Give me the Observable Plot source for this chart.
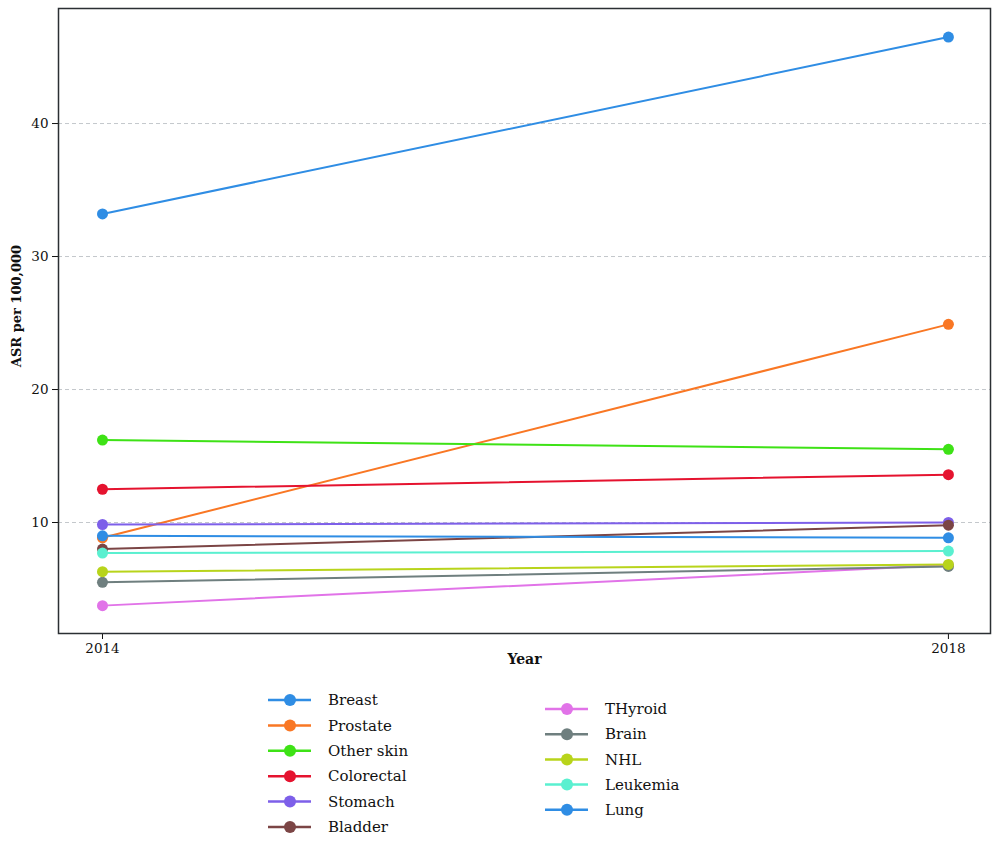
<!DOCTYPE html>
<html>
<head>
<meta charset="utf-8">
<script src="https://cdn.jsdelivr.net/npm/d3@7"></script>
<script src="https://cdn.jsdelivr.net/npm/@observablehq/plot@0.6"></script>
<style>
  html, body { margin: 0; padding: 0; background: #fff; }
  #wrap { position: relative; width: 1000px; height: 848px; font-family: "DejaVu Serif", serif; }
  #chart { position: absolute; left: 0; top: 0; }
  #legend { position: absolute; left: 0; top: 680px; }
</style>
</head>
<body>
<div id="wrap"><div id="chart"></div><svg id="legend" width="1000" height="168"></svg></div>
<script>
const sites = ["Breast", "Prostate", "Other skin", "Colorectal", "Stomach", "Bladder", "THyroid", "Brain", "NHL", "Leukemia", "Lung"];
const colors = ["#2f8de4", "#f97724", "#3ee216", "#e5132f", "#7d5fe9", "#7b4545", "#e173e8", "#6f7f7f", "#b8d41b", "#5af0d0", "#2f8de4"];
const years = [2014, 2018];
const asr2014 = [33.2, 8.85, 16.2, 12.5, 9.85, 8.0, 3.75, 5.5, 6.3, 7.7, 9.0];
const asr2018 = [46.5, 24.9, 15.5, 13.6, 10.0, 9.8, 6.8, 6.7, 6.85, 7.85, 8.85];
const yTicks = [10, 20, 30, 40];

const data = [];
sites.forEach((s, i) => {
  data.push({site: s, year: years[0], value: asr2014[i]});
  data.push({site: s, year: years[1], value: asr2018[i]});
});

const chart = Plot.plot({
  width: 1000,
  height: 680,
  marginLeft: 58,
  marginRight: 10,
  marginTop: 8,
  marginBottom: 47,
  style: {fontFamily: "DejaVu Serif, serif", fontSize: "13px", color: "#111", background: "#fff"},
  x: {domain: [2013.792, 2018.199], ticks: years, tickFormat: d => String(d), label: null},
  y: {domain: [1.654, 48.65], ticks: yTicks, label: null},
  color: {domain: sites, range: colors},
  marks: [
    Plot.gridY(yTicks, {stroke: "#c4c8cc", strokeOpacity: 1, strokeDasharray: "4,3"}),
    Plot.axisY(yTicks, {tickSize: 6, tickPadding: 4, label: null, fontSize: 13.5}),
    Plot.axisX(years, {tickSize: 6, tickPadding: 4, label: null, tickFormat: d => String(d), fontSize: 13.5}),
    Plot.line(data, {x: "year", y: "value", z: "site", stroke: "site", strokeWidth: 2}),
    Plot.dot(data, {x: "year", y: "value", fill: "site", r: 5.5}),
    Plot.frame({stroke: "#2b2f33", strokeWidth: 1.5}),
    Plot.text(["ASR per 100,000"], {frameAnchor: "left", textAnchor: "middle", dx: -42, dy: -15, rotate: -90, fontWeight: "bold", fontSize: 13}),
    Plot.text(["Year"], {frameAnchor: "bottom", dy: 30, fontWeight: "bold", fontSize: 14})
  ]
});
document.getElementById("chart").appendChild(chart);

// legend
const leg = d3.select("#legend");
const col1 = sites.slice(0, 6), col2 = sites.slice(6);
function drawCol(names, offset, x0, y0, dy) {
  names.forEach((n, j) => {
    const c = colors[offset + j];
    const g = leg.append("g").attr("transform", `translate(${x0},${y0 + j * dy})`);
    g.append("line").attr("x1", 0).attr("x2", 43).attr("y1", 0).attr("y2", 0).attr("stroke", c).attr("stroke-width", 2.5);
    g.append("circle").attr("cx", 22).attr("cy", 0).attr("r", 6).attr("fill", c);
    g.append("text").attr("x", 60).attr("y", 0).attr("dy", "0.35em").attr("font-size", 15).attr("fill", "#111").text(n);
  });
}
drawCol(col1, 0, 268, 20, 25.4);
drawCol(col2, 6, 545, 29, 25.2);
</script>
</body>
</html>
